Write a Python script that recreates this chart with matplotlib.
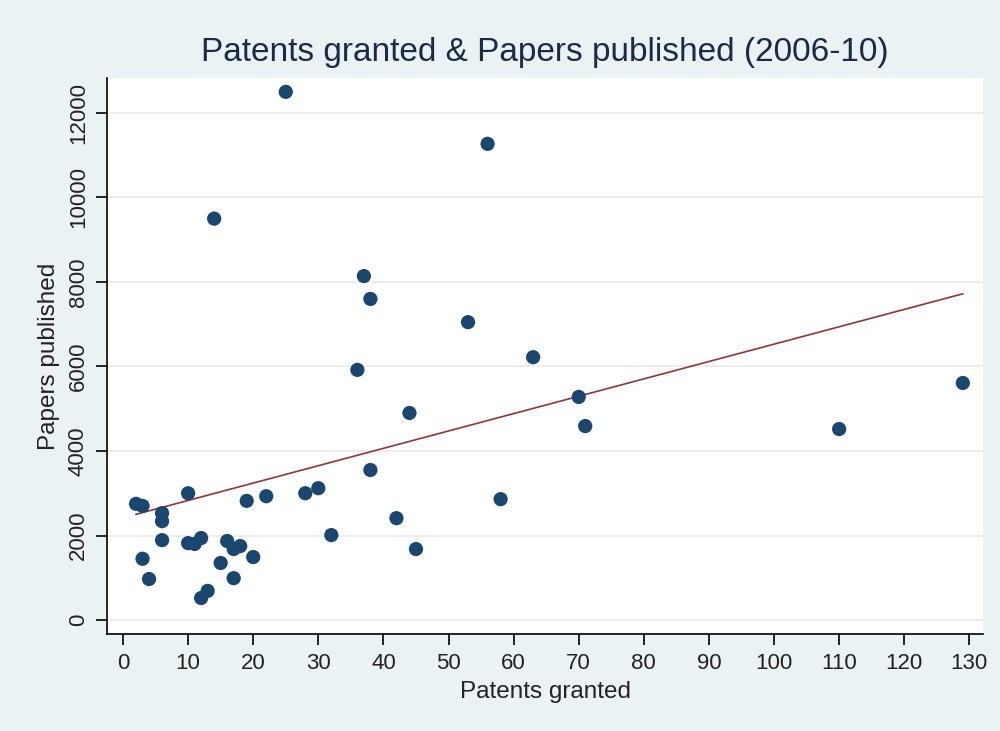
import numpy as np
import matplotlib
matplotlib.use('Agg')
import matplotlib.pyplot as plt

plt.rcParams['font.family'] = ['Liberation Sans', 'DejaVu Sans']

patents = [2, 3, 3, 4, 6, 6, 6, 10, 10, 11, 12, 12, 13, 14, 15, 16, 17, 17, 18, 19,
           20, 22, 25, 28, 30, 32, 36, 37, 38, 38, 42, 44, 45, 53, 56, 58, 63, 70, 71, 110, 129]
papers = [2750, 2700, 1450, 970, 2530, 2340, 1890, 3000, 1820, 1800, 1940, 520, 690, 9500,
          1350, 1870, 1680, 990, 1750, 2820, 1490, 2930, 12500, 3000, 3120, 2010, 5920, 8140,
          7600, 3550, 2410, 4900, 1680, 7050, 11270, 2860, 6220, 5280, 4590, 4520, 5610]

x = np.array(patents, dtype=float)
y = np.array(papers, dtype=float)
slope, intercept = np.polyfit(x, y, 1)
xs = np.array([x.min(), x.max()])

bg = '#eaf2f3'
fig = plt.figure(figsize=(10, 7.31), dpi=100, facecolor=bg)
ax = fig.add_axes([0.107, 1 - 634 / 731, 0.876, (634 - 78) / 731])
ax.set_facecolor('white')

ax.plot(xs, intercept + slope * xs, color='#90353b', lw=1.2, zorder=2)
ax.scatter(x, y, s=105, color='#1a476f', edgecolors='none', zorder=3)

ax.set_xlim(-2.46, 132.1)
ax.set_ylim(-331, 12828)
ax.set_xticks(np.arange(0, 131, 10))
ax.set_yticks(np.arange(0, 12001, 2000))
ax.yaxis.grid(True, color='#eaeaea', lw=1.2)
ax.set_axisbelow(True)

for s in ['top', 'right']:
    ax.spines[s].set_visible(False)
for s in ['left', 'bottom']:
    ax.spines[s].set_color('black')
    ax.spines[s].set_linewidth(1.2)

ax.tick_params(axis='both', direction='out', length=8, width=1.2, labelsize=16,
               colors='black', labelcolor='#222222', pad=6)
ax.tick_params(axis='y', labelrotation=90, pad=5)
for t in ax.get_yticklabels():
    t.set_va('center')

ax.set_xlabel('Patents granted', fontsize=17.5, color='#222222', labelpad=5)
ax.set_ylabel('Papers published', fontsize=17.5, color='#222222', labelpad=6)
ax.set_title('Patents granted & Papers published (2006-10)', fontsize=24,
             color='#1c2a48', pad=12)

fig.savefig('out.png', facecolor=bg)
